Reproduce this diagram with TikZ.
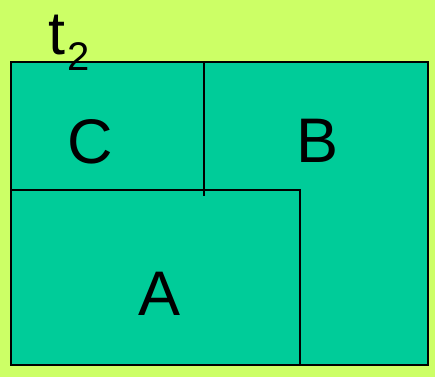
\documentclass[tikz,border=0pt]{standalone}
\usepackage{fontspec}
\setmainfont{Liberation Sans}
\definecolor{bgc}{HTML}{CCFF66}
\definecolor{boxc}{HTML}{00CC99}
\begin{document}
\begin{tikzpicture}[x=1pt,y=-1pt,
  edge/.style={draw=black,line width=2pt},
  big/.style={inner sep=0pt,anchor=base,font=\fontsize{63}{63}\selectfont}]
\fill[bgc] (0,0) rectangle (435,377);
\useasboundingbox (0,0) rectangle (435,377);
\coordinate (tl) at (11,62);
\coordinate (br) at (427.5,365);
\coordinate (vtop) at (203.5,62);
\coordinate (vbot) at (203.5,196);
\coordinate (hl) at (11,190);
\coordinate (hr) at (299.5,190);
\coordinate (vb) at (299.5,365);
\filldraw[fill=boxc,edge] (tl) rectangle (br);
\draw[edge] (vtop) -- (vbot);
\draw[edge] (hl) -- (hr) -- (vb);
\node[big] (C) at (90,163) {C};
\node[big] (B) at (317.5,162.3) {B};
\node[big] (A) at (160,315) {A};
\node[inner sep=0pt,anchor=base west,font=\fontsize{61}{61}\selectfont] (t) at (48,55) {t\hspace{2.5pt}\raisebox{-16pt}{\fontsize{40}{40}\selectfont 2}};
\end{tikzpicture}
\end{document}
